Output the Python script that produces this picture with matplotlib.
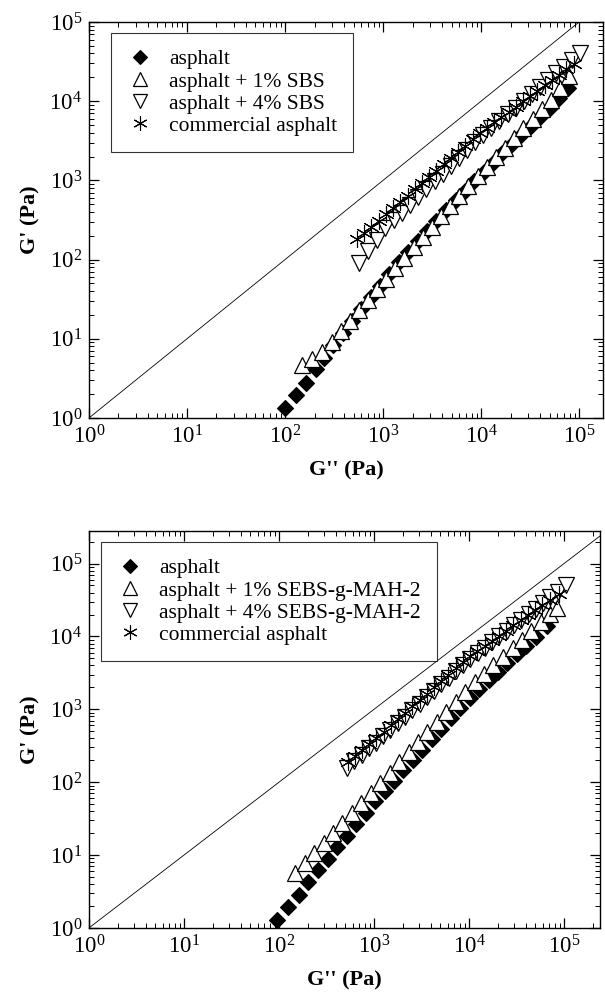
import numpy as np
import matplotlib
matplotlib.use('Agg')
import matplotlib.pyplot as plt
from matplotlib.ticker import LogLocator, NullFormatter

plt.rcParams['font.family'] = ['Liberation Serif', 'DejaVu Serif']
plt.rcParams['mathtext.fontset'] = 'custom'
plt.rcParams['mathtext.rm'] = 'Liberation Serif'
plt.rcParams['mathtext.it'] = 'Liberation Serif:italic'
plt.rcParams['mathtext.bf'] = 'Liberation Serif:bold'

# ---- top panel (SBS) : G'' and G' in Pa ----
top_labels = ['asphalt', 'asphalt + 1% SBS', 'asphalt + 4% SBS', 'commercial asphalt']

top_asph_g2 = [100, 130, 165, 205, 250, 310, 390, 480, 600, 750, 930, 1150, 1450, 1800, 2250, 2800,
	3500, 4400, 5500, 6800, 8500, 10600, 13200, 16500, 20500, 25500, 32000, 40000, 50000, 62000, 77000]
top_asph_g1 = [1.35, 1.95, 2.8, 4.2, 5.8, 8.3, 12, 17, 24, 34, 47, 65, 92, 125, 170, 230,
	310, 420, 560, 740, 980, 1280, 1680, 2200, 2850, 3700, 4800, 6300, 8200, 11000, 14500]

top_sbs1_g2 = [150, 190, 240, 300, 370, 460, 570, 700, 870, 1080, 1330, 1650, 2050, 2550, 3150, 3900,
	4850, 6000, 7400, 9200, 11400, 14100, 17500, 21700, 27000, 33500, 41500, 51500, 64000, 79000]
top_sbs1_g1 = [4.7, 5.5, 6.8, 9.0, 12.5, 17, 23, 31, 42, 57, 78, 106, 143, 193, 260, 350,
	470, 630, 840, 1120, 1490, 1980, 2600, 3450, 4550, 6000, 7900, 10500, 14500, 21000]

top_sbs4_g2 = [565, 700, 860, 1050, 1280, 1550, 1880, 2280, 2760, 3350, 4050, 4900, 5950, 7200, 8700,
	10500, 12700, 15400, 18600, 22500, 27200, 32900, 39800, 48000, 58000, 70000, 84000, 102000]
top_sbs4_g1 = [90, 128, 178, 248, 313, 393, 493, 620, 776, 977, 1220, 1530, 1920, 2400, 3010,
	3730, 4560, 5580, 6800, 8300, 10150, 12400, 15100, 18400, 22500, 27300, 33200, 40600]

top_comm_g2 = [540, 640, 760, 900, 1070, 1270, 1500, 1780, 2110, 2500, 2960, 3500, 4150, 4900, 5800, 6900,
	8200, 9700, 11500, 13600, 16100, 19100, 22600, 26800, 31700, 37500, 44500, 52700, 62400, 74000, 88000]
top_comm_g1 = [182, 218, 261, 310, 372, 448, 535, 643, 771, 925, 1107, 1325, 1590, 1900, 2275, 2740,
	3300, 3950, 4630, 5400, 6280, 7340, 8560, 10000, 11650, 13600, 15900, 18500, 21600, 25200, 29500]

# ---- bottom panel (SEBS-g-MAH-2) ----
bot_labels = ['asphalt', 'asphalt + 1% SEBS-g-MAH-2', 'asphalt + 4% SEBS-g-MAH-2', 'commercial asphalt']

bot_asph_g2 = [96, 125, 162, 204, 257, 325, 410, 515, 650, 815, 1030, 1290, 1620, 2040, 2570, 3230,
	4060, 5100, 6420, 8070, 10150, 12800, 16100, 20200, 25400, 32000, 40200, 50600, 66000]
bot_asph_g1 = [1.3, 1.95, 2.8, 4.3, 6.2, 8.9, 12.9, 18.5, 26.6, 38, 55, 76, 105, 146, 202, 281,
	390, 540, 750, 1040, 1436, 1900, 2500, 3280, 4330, 5700, 7500, 9890, 13700]

bot_sebs1_g2 = [147, 186, 234, 295, 370, 465, 585, 735, 925, 1160, 1460, 1840, 2310, 2900, 3650,
	4590, 5770, 7250, 9120, 11500, 14400, 18100, 22800, 28700, 36000, 45300, 57000, 71600, 85000]
bot_sebs1_g1 = [5.6, 7.8, 10.7, 14.8, 20.1, 27.5, 37.8, 51.9, 71.3, 97.7, 135, 187, 257, 352, 486,
	671, 923, 1270, 1755, 2355, 3060, 4015, 5270, 6920, 9040, 11860, 15560, 20400, 24900]

bot_sebs4_g2 = [520, 620, 740, 880, 1050, 1250, 1490, 1780, 2120, 2530, 3020, 3600, 4290, 5120, 6100,
	7280, 8680, 10350, 12340, 14700, 17550, 20900, 24950, 29750, 35500, 42300, 50400, 60100, 71700, 85500, 105000]
bot_sebs4_g1 = [158, 194, 238, 291, 350, 430, 526, 646, 791, 971, 1194, 1462, 1791, 2200, 2697,
	3311, 4064, 4955, 5903, 7031, 8396, 10000, 11940, 14230, 16990, 20230, 24100, 28770, 34280, 40930, 50000]

bot_comm_g2 = [530, 630, 750, 890, 1060, 1260, 1500, 1790, 2130, 2540, 3020, 3600, 4290, 5110, 6080,
	7240, 8630, 10280, 12240, 14580, 17370, 20690, 24640, 29350, 34960, 41640, 49600, 59080, 70370, 88000]
bot_comm_g1 = [190, 230, 279, 336, 406, 494, 604, 738, 900, 1101, 1340, 1637, 1997, 2440, 2978,
	3633, 4436, 5380, 6324, 7430, 8730, 10250, 12050, 14150, 16630, 19500, 22860, 26850, 31550, 38700]

top_xmax, top_ymax = 1.76e5, 1e5
bot_xmax, bot_ymax = 2.4e5, 2.8e5


def draw_panel(ax, series, labels, xmax, ymax, legend_anchor):
	ax.set_xscale('log')
	ax.set_yscale('log')
	ax.set_xlim(1, xmax)
	ax.set_ylim(1, ymax)
	# G' = G'' reference line
	lim = min(xmax, ymax)
	ax.plot([1, lim], [1, lim], color='black', lw=0.6, zorder=1)

	styles = [
		dict(marker='D', ms=8.5, mfc='black', mec='black', mew=0.8),
		dict(marker='^', ms=11.5, mfc='white', mec='black', mew=0.9),
		dict(marker='v', ms=11.5, mfc='white', mec='black', mew=0.9),
		dict(marker=(6, 2, 0), ms=12, mfc='black', mec='black', mew=0.8),
	]
	for (g2, g1), lab, st in zip(series, labels, styles):
		ax.plot(g2, g1, ls='none', label=lab, zorder=3, **st)

	ax.xaxis.set_major_locator(LogLocator(base=10, numticks=10))
	ax.yaxis.set_major_locator(LogLocator(base=10, numticks=10))
	ax.xaxis.set_minor_locator(LogLocator(base=10, subs=np.arange(2, 10), numticks=20))
	ax.yaxis.set_minor_locator(LogLocator(base=10, subs=np.arange(2, 10), numticks=20))
	ax.xaxis.set_minor_formatter(NullFormatter())
	ax.yaxis.set_minor_formatter(NullFormatter())
	ax.tick_params(which='both', direction='in', top=True, right=True, labelsize=16.5, pad=5)
	ax.tick_params(which='major', length=7, width=0.9)
	ax.tick_params(which='minor', length=3.5, width=0.7)
	for sp in ax.spines.values():
		sp.set_linewidth(1.0)

	ax.set_xlabel("G'' (Pa)", fontsize=16, fontweight='bold', labelpad=9)
	ax.set_ylabel("G' (Pa)", fontsize=16, fontweight='bold', labelpad=6)

	leg = ax.legend(loc='upper left', bbox_to_anchor=legend_anchor, fontsize=15.5, frameon=True,
		fancybox=False, edgecolor='black', borderpad=0.75, handlelength=1.2, handletextpad=0.75,
		labelspacing=0.1, borderaxespad=0, markerscale=0.85)
	leg.get_frame().set_linewidth(0.8)


fig = plt.figure(figsize=(6.05, 9.99), dpi=100)
ax_top = fig.add_axes([0.147, 0.5816, 0.850, 0.3964])
ax_bot = fig.add_axes([0.147, 0.0711, 0.845, 0.3974])

draw_panel(ax_top,
	[(top_asph_g2, top_asph_g1), (top_sbs1_g2, top_sbs1_g1), (top_sbs4_g2, top_sbs4_g1), (top_comm_g2, top_comm_g1)],
	top_labels, top_xmax, top_ymax, (0.043, 0.972))
draw_panel(ax_bot,
	[(bot_asph_g2, bot_asph_g1), (bot_sebs1_g2, bot_sebs1_g1), (bot_sebs4_g2, bot_sebs4_g1), (bot_comm_g2, bot_comm_g1)],
	bot_labels, bot_xmax, bot_ymax, (0.023, 0.972))

fig.savefig('out.png', dpi=100)
